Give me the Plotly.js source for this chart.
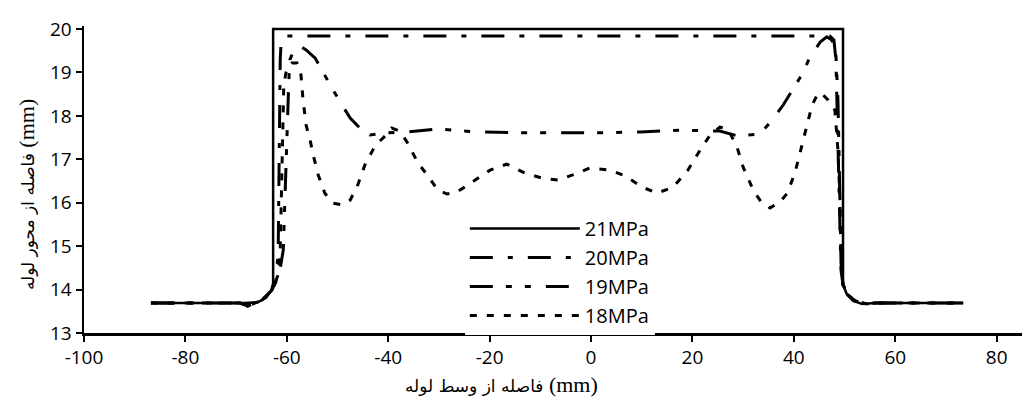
<!DOCTYPE html>
<html>
<head>
<meta charset="utf-8">
<script src="https://cdn.plot.ly/plotly-3.0.1.min.js"></script>
<style>html,body{margin:0;padding:0;background:#fff;}#chart{width:1025px;height:401px;}</style>
</head>
<body>
<div id="chart"></div>
<script>
// Series names
const seriesNames = ['21MPa', '20MPa', '19MPa', '18MPa'];

// 21 MPa
const x21 = [-84.8,-68.2,-65.7,-64.1,-63.1,-62.7,-62.7,49.7,49.7,50.5,51.7,53.5,56.0,73.4];
const y21 = [13.69,13.69,13.71,13.81,13.97,14.15,20.0,20.0,14.11,13.88,13.74,13.67,13.69,13.69];

// 20 MPa
const x20 = [-86.8,-69.2,-67.7,-64.9,-62.9,-62.1,-61.7,-61.5,-61.3,-61.1,-60.4,47.1,47.9,48.3,48.5,48.7,49.1,49.3,49.7,50.7,52.1,54.4,56.0,73.4];
const y20 = [13.69,13.69,13.62,13.76,13.99,14.22,14.91,17.21,19.29,19.75,19.84,19.84,19.75,19.29,18.37,17.21,15.60,14.45,14.11,13.88,13.74,13.67,13.69,13.69];

// 19 MPa
const x19 = [-86.8,-69.2,-67.7,-64.9,-62.9,-61.5,-60.7,-60.4,-60.0,-59.8,-59.6,-59.4,-58.6,-57.4,-56.2,-54.4,-52.9,-51.1,-49.1,-47.5,-45.6,-43.6,-40.6,-36.3,-29.8,-25.2,-21.3,-14.0,-6.1,1.8,9.7,17.6,25.4,28.8,33.3,35.7,37.9,39.8,41.8,43.2,45.2,46.5,47.5,48.3,48.7,48.9,49.1,49.3,49.7,50.7,52.1,54.4,56.0,73.4];
const y19 = [13.69,13.69,13.62,13.76,13.99,14.34,14.91,16.06,17.21,18.37,18.83,19.29,19.52,19.61,19.52,19.33,19.01,18.64,18.25,17.95,17.72,17.56,17.61,17.63,17.70,17.65,17.63,17.61,17.61,17.61,17.63,17.67,17.65,17.54,17.58,17.90,18.25,18.60,18.99,19.36,19.70,19.82,19.75,19.40,18.37,17.21,16.06,14.68,14.11,13.88,13.74,13.67,13.69,13.69];

// 18 MPa
const x18 = [-86.8,-69.2,-67.7,-64.9,-62.9,-61.7,-61.3,-61.1,-60.9,-60.7,-60.6,-60.0,-59.0,-58.0,-57.2,-56.8,-56.2,-55.4,-54.8,-53.8,-52.5,-50.9,-49.1,-47.5,-46.0,-44.6,-42.6,-40.6,-39.3,-37.7,-36.3,-34.1,-32.3,-30.2,-28.4,-26.4,-23.3,-19.9,-16.6,-13.0,-9.7,-6.5,-3.6,-0.2,3.7,6.7,10.1,13.0,16.2,19.1,21.5,23.5,25.4,27.0,28.8,30.0,32.0,33.7,35.3,37.3,38.7,40.2,41.2,42.6,43.6,44.8,45.6,46.7,48.1,48.7,49.1,49.3,49.7,50.7,52.1,54.4,56.0,73.4];
const y18 = [13.69,13.69,13.62,13.76,13.99,14.34,14.91,16.06,16.98,17.90,18.71,19.10,19.22,19.22,18.94,18.37,17.79,17.44,17.10,16.64,16.22,15.99,15.95,16.06,16.41,16.87,17.31,17.54,17.72,17.65,17.40,16.91,16.64,16.29,16.20,16.25,16.48,16.75,16.89,16.68,16.57,16.52,16.64,16.80,16.75,16.62,16.36,16.22,16.36,16.75,17.21,17.56,17.74,17.70,17.28,16.82,16.29,15.99,15.88,16.02,16.22,16.68,17.14,17.79,18.25,18.53,18.50,18.37,18.13,17.21,16.06,14.68,14.11,13.88,13.74,13.67,13.69,13.69];

// Tick labels
const xTickVals = [-100,-80,-60,-40,-20,0,20,40,60,80];
const xTickText = ['-100','-80','-60','-40','-20','0','20','40','60','80'];
const yTickVals = [13,14,15,16,17,18,19,20];
const yTickText = ['13','14','15','16','17','18','19','20'];

const xTitle = 'فاصله از وسط لوله <span style="font-family:\'Liberation Serif\';font-size:22px">(mm)</span>';
const yTitle = 'فاصله از محور لوله <span style="font-family:\'Liberation Serif\';font-size:22px">(mm)</span>';

const traces = [
  {x: x21, y: y21, name: seriesNames[0], mode: 'lines', line: {color: '#000', width: 2.5, dash: 'solid'}},
  {x: x20, y: y20, name: seriesNames[1], mode: 'lines', line: {color: '#000', width: 3, dash: '23px,15px,5px,15px'}},
  {x: x19, y: y19, name: seriesNames[2], mode: 'lines', line: {color: '#000', width: 3, dash: '23px,13px,6px,13px,6px,15px'}},
  {x: x18, y: y18, name: seriesNames[3], mode: 'lines', line: {color: '#000', width: 3, dash: '7px,10px'}}
];

const layout = {
  width: 1025, height: 401,
  margin: {l: 84, r: 3, t: 26, b: 68},
  paper_bgcolor: '#fff', plot_bgcolor: '#fff',
  font: {family: 'Open Sans, sans-serif', size: 19, color: '#000'},
  showlegend: true,
  legend: {
    x: 0.406, y: 0.404, xanchor: 'left', yanchor: 'top',
    bgcolor: 'rgba(255,255,255,1)', borderwidth: 0,
    font: {family: 'Open Sans, sans-serif', size: 20, color: '#000'},
    itemwidth: 110, tracegroupgap: 0, traceorder: 'normal'
  },
  xaxis: {
    range: [-100, 85], tickmode: 'array', tickvals: xTickVals, ticktext: xTickText,
    showgrid: false, zeroline: false, showline: true, linecolor: '#000', linewidth: 2.5,
    ticks: 'outside', ticklen: 6, tickwidth: 2, tickcolor: '#000',
    tickfont: {family: 'Open Sans, sans-serif', size: 19, color: '#000'}
  },
  yaxis: {
    range: [13, 20.07], tickmode: 'array', tickvals: yTickVals, ticktext: yTickText,
    showgrid: false, zeroline: false, showline: true, linecolor: '#000', linewidth: 2.5,
    ticks: 'outside', ticklen: 6, tickwidth: 2, tickcolor: '#000',
    tickfont: {family: 'Open Sans, sans-serif', size: 19, color: '#000'}
  },
  annotations: [
    {text: xTitle, xref: 'paper', yref: 'paper', x: 0.55, y: -0.169, xanchor: 'right', yanchor: 'middle',
     showarrow: false, font: {family: 'DejaVu Sans, sans-serif', size: 17, color: '#000'}},
    {text: yTitle, xref: 'paper', yref: 'paper', x: -0.0618, y: 0.4495, xanchor: 'center', yanchor: 'middle',
     textangle: -90, showarrow: false, font: {family: 'DejaVu Sans, sans-serif', size: 17, color: '#000'}}
  ]
};

Plotly.newPlot('chart', traces, layout, {staticPlot: true, displayModeBar: false});
</script>
</body>
</html>
